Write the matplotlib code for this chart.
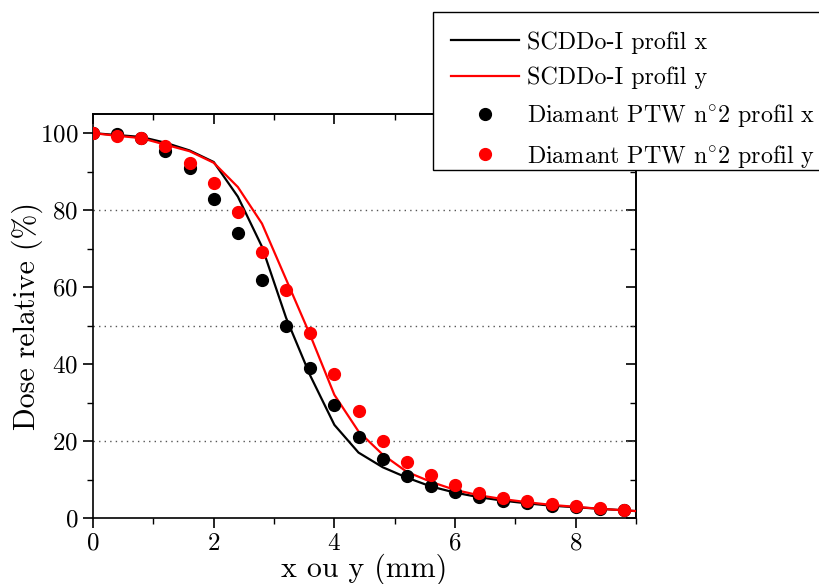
import matplotlib
matplotlib.use('Agg')
import matplotlib.pyplot as plt
from matplotlib.patches import Rectangle
from matplotlib.ticker import MultipleLocator

plt.rcParams['font.family'] = ['cmr10', 'DejaVu Serif']
plt.rcParams['mathtext.fontset'] = 'cm'
plt.rcParams['axes.formatter.use_mathtext'] = True

# SCDDo-I profiles (lines)
line_x = [0, 0.4, 0.8, 1.2, 1.6, 2.0, 2.4, 2.8, 3.2, 3.6, 4.0, 4.4, 4.8, 5.2,
          5.6, 6.0, 6.4, 6.8, 7.2, 7.6, 8.0, 8.4, 8.8, 9.0]
scd_x = [100, 99.5, 99.0, 97.5, 95.5, 92.5, 83.5, 70.5, 52.0, 37.0, 24.2, 17.0,
         13.2, 10.5, 8.2, 6.6, 5.4, 4.5, 3.8, 3.2, 2.8, 2.4, 2.0, 1.8]
scd_y = [100, 99.3, 98.7, 97.0, 95.3, 92.3, 86.0, 76.5, 62.0, 47.5, 32.0, 22.5,
         16.5, 12.0, 9.4, 7.3, 5.9, 4.9, 4.1, 3.4, 2.9, 2.4, 2.0, 1.8]

# Diamant PTW n°2 profiles (points)
pts_x = [0, 0.4, 0.8, 1.2, 1.6, 2.0, 2.4, 2.8, 3.2, 3.6, 4.0, 4.4, 4.8, 5.2,
         5.6, 6.0, 6.4, 6.8, 7.2, 7.6, 8.0, 8.4, 8.8]
ptw_x = [100, 99.7, 98.8, 95.3, 90.9, 83.0, 74.0, 61.8, 50.0, 39.0, 29.4, 21.0,
         15.3, 11.0, 8.4, 6.8, 5.5, 4.5, 3.8, 3.2, 2.8, 2.4, 2.0]
ptw_y = [100, 99.2, 98.8, 96.7, 92.2, 87.0, 79.4, 69.1, 59.2, 48.0, 37.4, 27.9,
         20.0, 14.6, 11.1, 8.6, 6.6, 5.3, 4.4, 3.6, 3.0, 2.5, 2.1]

grid_levels = [20, 50, 80]

W, H = 819, 584
fig = plt.figure(figsize=(W / 100, H / 100), dpi=100)
ax = fig.add_axes([0.1136, 0.113, 0.663, 0.692])

for g in grid_levels:
    ax.axhline(g, color='#555555', linestyle=(0, (1, 3)), linewidth=1.0, zorder=1)

l1, = ax.plot(line_x, scd_x, color='black', linewidth=1.6, zorder=3,
              label='SCDDo-I profil x')
l2, = ax.plot(line_x, scd_y, color='#ff0000', linewidth=1.6, zorder=4,
              label='SCDDo-I profil y')
p1, = ax.plot(pts_x, ptw_x, 'o', color='black', markersize=8.5, zorder=5,
              label=r'Diamant PTW n$^{\circ}$2 profil x')
p2, = ax.plot(pts_x, ptw_y, 'o', color='#ff0000', markersize=8.5, zorder=6,
              label=r'Diamant PTW n$^{\circ}$2 profil y')

ax.set_xlim(0, 9)
ax.set_ylim(0, 105)
ax.xaxis.set_major_locator(MultipleLocator(2))
ax.xaxis.set_minor_locator(MultipleLocator(1))
ax.yaxis.set_major_locator(MultipleLocator(20))
ax.yaxis.set_minor_locator(MultipleLocator(10))
ax.tick_params(which='major', direction='out', length=7, width=1.2, labelsize=18)
ax.tick_params(which='minor', direction='out', length=4, width=1.0)

# inward ticks on top and right
top = ax.secondary_xaxis('top')
top.xaxis.set_major_locator(MultipleLocator(2))
top.xaxis.set_minor_locator(MultipleLocator(1))
top.tick_params(which='major', direction='in', length=7, width=1.2, labeltop=False)
top.tick_params(which='minor', direction='in', length=4, width=1.0)
right = ax.secondary_yaxis('right')
right.yaxis.set_major_locator(MultipleLocator(20))
right.yaxis.set_minor_locator(MultipleLocator(10))
right.tick_params(which='major', direction='in', length=7, width=1.2, labelright=False)
right.tick_params(which='minor', direction='in', length=4, width=1.0)

for sp in list(ax.spines.values()) + [top.spines['top'], right.spines['right']]:
    sp.set_linewidth(1.2)

ax.set_xlabel('x ou y (mm)', fontsize=21.5, labelpad=-1)
ax.set_ylabel('Dose relative (%)', fontsize=21.5, labelpad=-2)

# legend box, partly outside the figure on the right
box = Rectangle((433 / W, 1 - 170 / H), 400 / W, 158 / H, transform=fig.transFigure,
                facecolor='white', edgecolor='black', linewidth=1.0, zorder=9,
                clip_on=False)
fig.add_artist(box)
leg = fig.legend(handles=[l1, l2, p1, p2], loc='upper left',
                 bbox_to_anchor=(451 / W, 1 - 31 / H), fontsize=17.3,
                 frameon=False, handlelength=2.85, labelspacing=0.55,
                 borderpad=0, handletextpad=0.3, borderaxespad=0)
leg.set_zorder(10)

fig.savefig('out.png', dpi=100, facecolor='white')
